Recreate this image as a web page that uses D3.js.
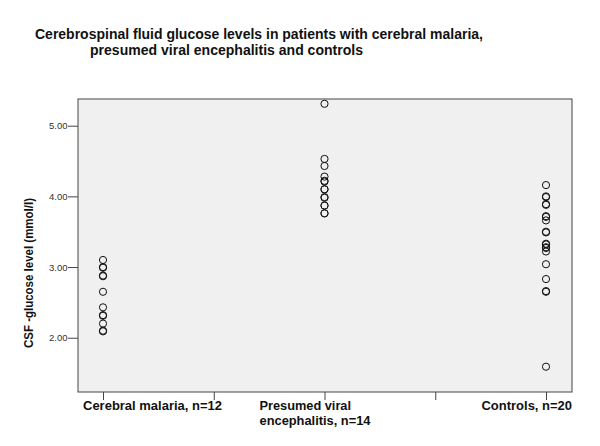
<!DOCTYPE html>
<html><head><meta charset="utf-8">
<script src="https://cdn.jsdelivr.net/npm/d3@7"></script>
<style>body{margin:0;background:#fff}svg{display:block}</style>
</head><body>
<script>
const categories = ["Cerebral malaria, n=12", "Presumed viral encephalitis, n=14", "Controls, n=20"];
const malaria = [3.10, 3.00, 2.99, 2.88, 2.87, 2.65, 2.43, 2.32, 2.31, 2.20, 2.10, 2.09];
const viral = [5.31, 4.53, 4.43, 4.28, 4.22, 4.21, 4.10, 4.10, 3.99, 3.98, 3.87, 3.87, 3.76, 3.76];
const controls = [4.16, 4.00, 3.99, 3.89, 3.88, 3.72, 3.71, 3.66, 3.50, 3.49, 3.33, 3.32, 3.28, 3.27, 3.22, 3.04, 2.83, 2.66, 2.65, 1.59];
const yTicks = [2, 3, 4, 5];
const titleLines = ["Cerebrospinal fluid glucose levels in patients with cerebral malaria,", "presumed viral encephalitis and controls"];
const yTitle = "CSF -glucose level (mmol/l)";

const W = 600, H = 446;
const pL = 78, pR = 572, pT = 99, pB = 392;
const FONT = "Liberation Sans, Arial, sans-serif";
const svg = d3.select("body").append("svg").attr("width", W).attr("height", H);

const y = d3.scaleLinear().domain([1.232, 5.378]).range([pB, pT]);
const x = d3.scaleLinear().domain([0, 4]).range([103, 546]);
const catPos = [0, 2, 4];

svg.append("rect").attr("x", pL).attr("y", pT).attr("width", pR - pL).attr("height", pB - pT)
  .attr("fill", "#f0f0f0").attr("stroke", "#444").attr("stroke-width", 1);

function addText(tx, ty, anchor, s, size, len) {
  return svg.append("text").attr("x", tx).attr("y", ty).attr("text-anchor", anchor)
    .attr("font-family", FONT).attr("font-weight", "bold").attr("font-size", size).attr("fill", "#111")
    .attr("textLength", len).attr("lengthAdjust", "spacingAndGlyphs").text(s);
}

// title
addText(35, 38.5, "start", titleLines[0], 15, 448);
addText(90, 54.5, "start", titleLines[1], 15, 273);

// y axis
const yAxis = d3.axisLeft(y).tickValues(yTicks).tickFormat(d3.format(".2f")).tickSize(10).tickSizeOuter(0);
const gy = svg.append("g").attr("transform", `translate(${pL},0)`).call(yAxis);
gy.select(".domain").remove();
gy.selectAll(".tick line").attr("stroke", "#444");
gy.selectAll(".tick text").attr("font-family", FONT).attr("font-size", 9.5).attr("fill", "#333").attr("x", -10.5);

svg.append("text").attr("transform", `translate(32.5,273) rotate(-90)`)
  .attr("text-anchor", "middle").attr("font-family", FONT)
  .attr("font-weight", "bold").attr("font-size", 12.5).attr("fill", "#111")
  .attr("textLength", 150).attr("lengthAdjust", "spacingAndGlyphs").text(yTitle);

// x axis ticks
const xAxis = d3.axisBottom(x).tickValues([0, 1, 2, 3, 4]).tickFormat("").tickSize(8).tickSizeOuter(0);
const gx = svg.append("g").attr("transform", `translate(0,${pB})`).call(xAxis);
gx.select(".domain").remove();
gx.selectAll(".tick line").attr("stroke", "#444");

addText(x(catPos[0]) - 20, 410, "start", categories[0], 12, 139);
addText(x(catPos[1]) - 65, 410, "start", "Presumed viral", 12, 91.5);
addText(x(catPos[1]) - 65, 424.5, "start", "encephalitis, n=14", 12, 111);
addText(pR, 410, "end", categories[2], 12, 90.5);

// points
const groups = [malaria, viral, controls];
groups.forEach((vals, i) => {
  svg.append("g").selectAll("circle").data(vals).join("circle")
    .attr("cx", x(catPos[i])).attr("cy", d => y(d)).attr("r", 3.6)
    .attr("fill", "none").attr("stroke", "#111").attr("stroke-width", 1);
});
</script>
</body></html>
